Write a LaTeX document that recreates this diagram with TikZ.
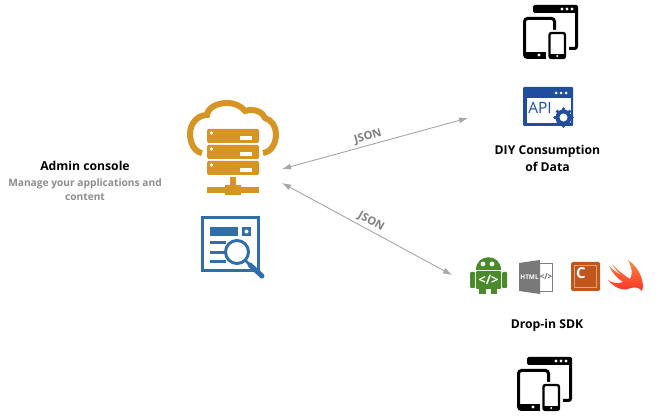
\documentclass[tikz,border=0pt]{standalone}
\usepackage{fontspec}
\setmainfont{Open Sans}
\usetikzlibrary{arrows.meta}
\definecolor{srvorange}{HTML}{D59423}
\definecolor{docblue}{HTML}{2F6EA6}
\definecolor{apiblue}{HTML}{1F4E9E}
\definecolor{lblgray}{HTML}{7F7F7F}
\definecolor{subgray}{HTML}{8C8C8C}
\definecolor{arrgray}{HTML}{A6A6A6}
\definecolor{droidgreen}{HTML}{4A8A2A}
\definecolor{cbrown}{HTML}{C0561C}
\definecolor{swiftred}{HTML}{FA2F28}
\definecolor{swiftorange}{HTML}{FB8A3C}

\tikzset{
	heading/.style={font=\bfseries\fontsize{12.2}{17}\selectfont, text=black, align=center, inner sep=0pt},
	subhead/.style={font=\bfseries\fontsize{10.2}{14}\selectfont, text=subgray, align=center, inner sep=0pt},
	jsonlbl/.style={font=\bfseries\fontsize{11.2}{13}\selectfont, text=lblgray, inner sep=0pt},
	link/.style={draw=arrgray, line width=0.9pt, {Latex[length=9pt,width=6pt]}-{Latex[length=9pt,width=6pt]}},
	devices/.pic={
		% window behind
		\fill[black, rounded corners=1.5pt] (10,-12) rectangle (55,-4);
		\draw[black, line width=3pt, rounded corners=2pt] (53.5,-6) -- (53.5,31.5) -- (46,31.5);
		\foreach \dx in {39,44,49} \fill[white] (\dx,-8) circle (1.6);
		% tablet
		\draw[black, line width=3pt, rounded corners=3pt] (1.5,1.5) rectangle (31.5,40.5);
		\fill[black] (1.5,35.5) rectangle (31.5,40.5);
		\fill[white] (16,38) circle (1.7);
		% phone
		\fill[white, rounded corners=2pt] (23,13) rectangle (45,43);
		\draw[black, line width=2.4pt, rounded corners=2pt] (26.5,16) rectangle (42,41);
		\fill[black] (26.5,37) rectangle (42,41);
		\fill[white] (34.2,39) circle (1.2);
	}
}

\begin{document}
\begin{tikzpicture}[x=1pt,y=-1pt]
	\useasboundingbox (0,0) rectangle (664,419);

	% server in the cloud
	\draw[srvorange, line width=6pt] (202,153) .. controls (194,152) and (190,142) .. (190,134)
		.. controls (190,123) and (198,115) .. (207,115) .. controls (208,107) and (218,103) .. (227,103)
		.. controls (235,103) and (241,106) .. (245,111) .. controls (254,108) and (263,112) .. (265,118)
		.. controls (272,120) and (276,127) .. (276,134) .. controls (276,144) and (271,152) .. (263,153);
	\foreach \y in {129,145,161} {
		\fill[white] (204,\y-2) rectangle (262,\y+16);
		\fill[srvorange, rounded corners=1.5pt] (207,\y) rectangle (259,\y+14);
		\fill[white] (211.5,\y+4) circle (1.8);
		\fill[white] (240,\y+7.5) rectangle (252,\y+11);
	}
	\fill[srvorange] (230,177) rectangle (236,188);
	\fill[srvorange] (207,187) rectangle (259,193);
	\fill[srvorange] (225,185) rectangle (241,195);

	% report page
	\draw[docblue, line width=3pt] (202.5,217.5) rectangle (258.5,270.5);
	\fill[docblue] (210,227) rectangle (238,236);
	\fill[docblue] (242,227) rectangle (251,236);
	\fill[white] (246.5,231.5) circle (2);
	\foreach \y in {243,253,262} \fill[docblue] (210,\y-1.5) rectangle (226,\y+1.5);
	\draw[docblue, line width=3pt, fill=white] (237,252) circle (11.5);
	\draw[docblue, line width=2.5pt] (245,260) -- (250,265);
	\draw[docblue, line width=5pt, line cap=round] (250,265) -- (262,276);

	% devices, top and bottom
	\pic (devtop) at (523,17) {devices};
	\pic (devbot) at (517,369) {devices};

	% api window
	\fill[apiblue, rounded corners=1pt] (523,87) rectangle (573,126);
	\fill[white] (527,98) rectangle (571,123);
	\foreach \dx in {556,561,566} \fill[white] (\dx,93) circle (1.5);
	\node[inner sep=0pt, text=apiblue, font=\fontsize{15.5}{15}\selectfont] (apitxt) at (540,107.5) {API};
	\foreach \a in {0,45,...,315} \fill[apiblue] (563.5,117.5) ++(\a:8.5) circle (1.8);
	\fill[apiblue] (563.5,117.5) circle (8);
	\fill[white] (563.5,117.5) circle (4);

	% android
	\fill[droidgreen] (476,270) .. controls (476,253) and (501,253) .. (501,270) -- cycle;
	\fill[white] (483,264) circle (2.4);
	\fill[white] (492,264) circle (2.4);
	\fill[droidgreen, rounded corners=1pt] (476,271) rectangle (501,289);
	\fill[droidgreen] (479,288) rectangle (486,294);
	\fill[droidgreen] (491,288) rectangle (497,294);
	\fill[droidgreen, rounded corners=1pt] (470,272) rectangle (475,288);
	\fill[droidgreen, rounded corners=1pt] (502,272) rectangle (507,288);
	\node[inner sep=0pt, text=white, font=\bfseries\fontsize{13}{13}\selectfont] (droidtxt) at (488.5,280) {</>};

	% html door
	\draw[lblgray, line width=0.8pt, fill=white] (538,263.5) rectangle (552,291);
	\fill[lblgray!95!black] (519,263) -- (540,260) -- (540,294) -- (519,291) -- cycle;
	\node[inner sep=0pt, text=white, font=\bfseries\fontsize{6.4}{6}\selectfont] (htmltxt) at (529.5,277) {HTML};
	\node[inner sep=0pt, text=lblgray!80!black, font=\bfseries\fontsize{8}{8}\selectfont] (tagtxt) at (546,277) {</>};

	% c tile
	\fill[cbrown, rounded corners=1.5pt] (571,262) rectangle (600,291);
	\draw[cbrown!55!white, line width=0.9pt] (574.5,265) rectangle (596.5,287);
	\node[inner sep=0pt, text=white, font=\bfseries\fontsize{15}{15}\selectfont] (ctxt) at (581,273) {C};

	% swift
	\shade[top color=swiftorange, bottom color=swiftred]
		(608,280) .. controls (614,287) and (622,292) .. (631,288) .. controls (635,286.5) and (640,288) .. (642,291)
		.. controls (645,283) and (640,268) .. (628,260) .. controls (632,267) and (633,274) .. (630,279)
		.. controls (624,275) and (616,269) .. (612,264) .. controls (615,269) and (618,272) .. (621,275)
		.. controls (617,273) and (612,269) .. (609,266) .. controls (612,273) and (618,279) .. (623,282)
		.. controls (618,284) and (612,283) .. (608,280) -- cycle;

	% labels
	\node[heading] (admin) at (85,166) {Admin console};
	\node[subhead] (manage) at (85,190) {Manage your applications and\\content};
	\node[heading] (diy) at (547.5,158) {DIY Consumption\\of Data};
	\node[heading] (sdk) at (547,325) {Drop-in SDK};

	% links
	\coordinate (srvup) at (282,169);
	\coordinate (srvdown) at (282,183);
	\coordinate (diyend) at (468,118);
	\coordinate (sdkend) at (452,275);
	\draw[link] (srvup) -- (diyend);
	\draw[link] (srvdown) -- (sdkend);
	\node[jsonlbl, rotate=15.3] (jsonup) at (368,137) {JSON};
	\node[jsonlbl, rotate=-28.4] (jsondown) at (371,222) {JSON};
\end{tikzpicture}
\end{document}
